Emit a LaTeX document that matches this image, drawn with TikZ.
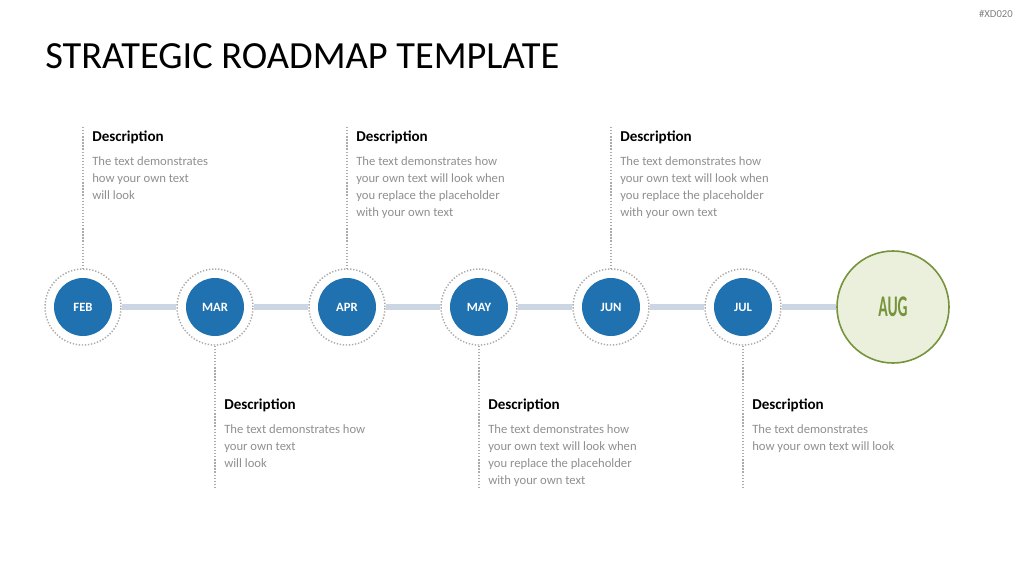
\documentclass[tikz,border=0pt]{standalone}
\usepackage{fontspec}
\setmainfont{Carlito}
\newfontfamily\augfont[FakeStretch=0.52]{Carlito}
\usetikzlibrary{positioning}

\definecolor{roadblue}{HTML}{1F72AF}
\definecolor{barblue}{HTML}{CBD6E2}
\definecolor{augfill}{HTML}{EBF0DD}
\definecolor{auggreen}{HTML}{77933C}
\definecolor{bodygray}{HTML}{8F8F8F}
\definecolor{dotgray}{HTML}{ABABAB}

\tikzset{
  ring/.style={circle, draw=dotgray, dash pattern=on 1pt off 1.3pt, line width=1.1pt, minimum size=57pt, inner sep=0pt},
  month/.style={circle, fill=roadblue, text=white, font=\bfseries\fontsize{9.5}{9.5}\selectfont, minimum size=43.5pt, inner sep=0pt},
  goal/.style={circle, draw=auggreen, fill=augfill, text=auggreen, line width=1.2pt, minimum size=84pt, inner sep=0pt, font=\augfont\bfseries\fontsize{22.5}{22.5}\selectfont},
  bar/.style={barblue, line width=5pt},
  guide/.style={dotgray, dash pattern=on 1pt off 1.3pt, line width=1pt},
  head/.style={anchor=base west, inner sep=0pt, font=\bfseries\fontsize{11.3}{13}\selectfont},
  body/.style={inner sep=0pt, align=left, text=bodygray, font=\fontsize{9.5}{12.75}\selectfont}
}

\begin{document}
\begin{tikzpicture}[x=0.75pt, y=-0.75pt]
    \useasboundingbox (0,0) rectangle (1024,576);

    \node[anchor=east, inner sep=0pt, text=gray, font=\fontsize{8}{9}\selectfont] (tag) at (1013,14) {\#XD020};
    \node[anchor=west, inner sep=0pt, font=\fontsize{28.8}{30}\selectfont] (title) at (45,56) {STRATEGIC ROADMAP TEMPLATE};

    % months on the line
    \foreach \m/\x in {FEB/83, MAR/215, APR/347, MAY/479, JUN/611, JUL/743} {
        \node[ring] (r\m) at (\x,307) {};
        \node[month] (c\m) at (\x,307) {\m};
    }
    \node[goal] (rAUG) at (893,307) {AUG};

    \foreach \a/\b in {FEB/MAR, MAR/APR, APR/MAY, MAY/JUN, JUN/JUL, JUL/AUG}
        \draw[bar] (r\a) -- (r\b);

    % descriptions above
    \foreach \m/\x/\txt in {FEB/83/{The text demonstrates\\how your own text\\will look},
                            APR/347/{The text demonstrates how\\your own text will look when\\you replace the placeholder\\with your own text},
                            JUN/611/{The text demonstrates how\\your own text will look when\\you replace the placeholder\\with your own text}} {
        \coordinate (t\m) at (\x,127);
        \draw[guide] (t\m) -- (r\m.north);
        \node[head] (h\m) at (\x+9,141) {Description};
        \node[body, below right=9.5pt and 0pt of h\m.south west] (d\m) {\txt};
    }

    % descriptions below
    \foreach \m/\x/\txt in {MAR/215/{The text demonstrates how\\your own text\\will look},
                            MAY/479/{The text demonstrates how\\your own text will look when\\you replace the placeholder\\with your own text},
                            JUL/743/{The text demonstrates\\how your own text will look}} {
        \coordinate (b\m) at (\x,487);
        \draw[guide] (r\m.south) -- (b\m);
        \node[head] (h\m) at (\x+9,409) {Description};
        \node[body, below right=9.5pt and 0pt of h\m.south west] (d\m) {\txt};
    }
\end{tikzpicture}
\end{document}
